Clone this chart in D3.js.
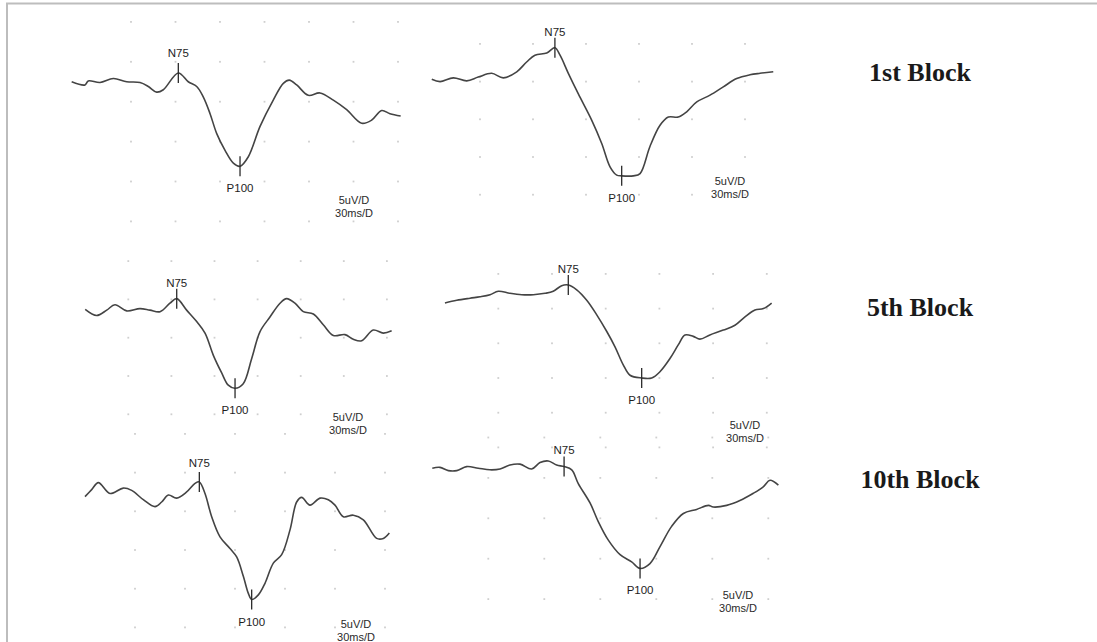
<!DOCTYPE html>
<html>
<head>
<meta charset="utf-8">
<script src="https://cdn.jsdelivr.net/npm/d3@7"></script>
<style>
    html, body { margin: 0; padding: 0; background: #fff; }
    svg { display: block; }
</style>
</head>
<body>
<div id="chart"></div>
<script>
// latency in ms, amplitude in uV (negative up, like the recorder)
const blockNames = ["1st Block", "5th Block", "10th Block"];
const peakNames = ["N75", "P100"];
const unitLabels = ["5uV/D", "30ms/D"];
const msPerDiv = 30;
const uvPerDiv = 5;

const b1aMs = [20.0, 29.0, 31.2, 39.1, 48.1, 57.1, 66.1, 71.7, 77.3, 81.8, 91.9, 98.6, 104.3, 108.7, 113.3, 117.8, 123.4, 129.0, 133.5, 139.1, 147.0, 155.9, 162.7, 166.7, 171.7, 179.5, 187.4, 196.4, 205.4, 215.5, 222.3, 229.0, 234.6, 241.8];
const b1aUv = [-2.5, -2.1, -2.6, -2.4, -2.9, -2.5, -2.4, -1.9, -1.2, -1.5, -3.6, -2.5, -1.9, -0.6, 1.5, 4.0, 6.1, 7.7, 8.1, 6.9, 3.1, -0.2, -2.3, -2.7, -2.1, -0.8, -1.1, -0.2, 1.0, 2.7, 2.3, 1.1, 1.5, 1.8];

const b1bMs = [2.7, 7.4, 14.9, 22.5, 29.0, 36.6, 43.2, 50.8, 56.4, 61.1, 67.8, 72.4, 75.3, 80.0, 85.6, 93.2, 98.9, 103.6, 107.4, 110.2, 116.8, 120.6, 126.2, 131.9, 136.6, 142.2, 147.0, 152.7, 160.2, 167.7, 175.3, 182.8, 188.5, 196.0];
const b1bUv = [-5.3, -5.0, -5.5, -5.1, -5.6, -6.1, -5.5, -6.3, -7.6, -8.5, -8.8, -9.5, -8.5, -6.1, -3.4, 0.1, 3.2, 6.3, 7.4, 7.5, 7.5, 7.2, 3.6, 0.8, -0.3, -0.3, -1.0, -2.3, -3.2, -4.3, -5.4, -5.9, -6.1, -6.3];

const b5aMs = [0.0, 8.0, 15.0, 20.7, 28.9, 38.1, 45.1, 52.1, 59.0, 63.7, 70.6, 77.6, 83.4, 89.2, 95.0, 99.6, 104.3, 110.0, 115.9, 121.7, 128.6, 135.6, 140.2, 146.0, 151.8, 158.8, 165.7, 172.7, 180.8, 186.6, 192.4, 200.5, 207.5, 213.3];
const b5aUv = [-3.7, -2.9, -3.6, -4.3, -3.5, -3.8, -3.6, -3.4, -4.5, -5.1, -3.6, -2.1, -0.6, 2.3, 4.6, 6.2, 6.6, 6.0, 2.7, -0.8, -2.7, -4.5, -5.1, -4.5, -3.4, -3.1, -1.7, -0.3, -0.4, 0.2, 0.4, -1.0, -0.6, -0.9];

const b5bMs = [0.2, 6.8, 14.2, 19.8, 25.4, 30.0, 36.5, 43.1, 49.6, 56.1, 60.7, 65.4, 69.1, 73.8, 79.4, 85.0, 90.6, 95.2, 99.8, 103.6, 110.1, 115.7, 120.3, 125.9, 130.6, 134.3, 138.9, 142.6, 148.2, 155.7, 162.2, 167.8, 173.4, 178.1, 182.7];
const b5bUv = [-5.8, -6.2, -6.5, -6.7, -7.0, -7.5, -7.2, -7.0, -7.0, -7.2, -7.5, -8.3, -8.4, -7.7, -6.2, -4.1, -1.7, 0.5, 3.1, 4.6, 5.0, 5.0, 4.1, 2.2, 0.2, -1.2, -1.0, -0.6, -1.2, -1.9, -2.6, -3.8, -4.8, -5.0, -5.8];

const b10aMs = [0.0, 4.0, 8.0, 15.0, 23.0, 28.0, 35.0, 42.0, 46.0, 50.0, 55.0, 61.0, 66.0, 68.6, 72.0, 76.0, 81.0, 87.0, 91.0, 95.0, 98.0, 100.0, 104.0, 108.0, 113.0, 118.0, 123.0, 127.0, 130.0, 135.0, 141.0, 146.0, 150.0, 155.0, 161.0, 167.0, 175.0, 179.0, 182.6];
const b10aUv = [-6.9, -7.8, -8.7, -7.3, -8.0, -7.7, -6.5, -5.6, -6.2, -7.1, -6.7, -7.5, -8.6, -8.8, -7.3, -4.3, -1.7, -0.2, 0.9, 3.4, 5.6, 6.4, 5.8, 4.3, 1.7, 0.6, -2.6, -6.2, -6.8, -5.8, -6.7, -6.5, -5.8, -4.3, -4.5, -3.9, -1.5, -1.5, -2.2];

const b10bMs = [0.0, 4.1, 8.6, 13.1, 18.4, 24.6, 30.9, 36.3, 41.6, 47.0, 53.2, 57.7, 62.1, 66.6, 70.6, 74.7, 78.2, 84.5, 88.9, 94.3, 100.6, 106.8, 111.3, 116.6, 122.0, 128.2, 134.5, 141.6, 147.9, 150.5, 157.7, 164.8, 172.0, 177.3, 180.9, 185.4];
const b10bUv = [-6.2, -6.3, -5.9, -5.9, -6.4, -6.2, -6.0, -6.1, -6.6, -6.7, -6.1, -6.9, -7.1, -6.6, -6.4, -6.0, -4.3, -1.9, 0.4, 2.7, 4.5, 5.4, 6.2, 5.6, 3.5, 1.0, -0.6, -1.1, -1.6, -1.4, -1.6, -2.2, -3.1, -3.9, -4.7, -4.1];

// peak latencies, one per panel (1st L, 1st R, 5th L, 5th R, 10th L, 10th R)
const n75Ms = [91.9, 72.4, 63.7, 69.1, 68.6, 70.6];
const p100Ms = [133.5, 110.2, 104.3, 110.1, 100.0, 111.3];

document.addEventListener("DOMContentLoaded", function () {
    const width = 1097, height = 642;

    const svg = d3.select("#chart")
        .append("svg")
        .attr("width", width)
        .attr("height", height);

    // frame (top and left edges only)
    svg.append("path")
        .attr("d", `M7,${height} V3.5 H${width}`)
        .attr("fill", "none")
        .attr("stroke", "#bdbdbd")
        .attr("stroke-width", 2);

    // each panel was pasted at its own size, so each gets its own px/div
    const panels = [
        { ms: b1aMs, uv: b1aUv, x0: 42, dx: 44.5, y0: 101.7, dy: 39.9, cols: [60, 240], rows: [-10, 15], ux: 354, uy: 204, nOff: 16 },
        { ms: b1bMs, uv: b1bUv, x0: 427, dx: 53, y0: 119.3, dy: 37.7, cols: [30, 180], rows: [-10, 10], ux: 730, uy: 184.5, nOff: 12 },
        { ms: b5aMs, uv: b5aUv, x0: 85.2, dx: 43.1, y0: 337.7, dy: 38.3, cols: [30, 210], rows: [-10, 10], ux: 348, uy: 421, nOff: 12 },
        { ms: b5bMs, uv: b5bUv, x0: 444.6, dx: 53.7, y0: 343.3, dy: 34.7, cols: [30, 180], rows: [-10, 15], ux: 745, uy: 429, nOff: 12 },
        { ms: b10aMs, uv: b10aUv, x0: 85, dx: 50, y0: 550, dy: 38.7, cols: [30, 180], rows: [-15, 10], ux: 356, uy: 627.5, nOff: 15 },
        { ms: b10bMs, uv: b10bUv, x0: 432.3, dx: 56, y0: 518.3, dy: 40.4, cols: [30, 180], rows: [-10, 10], ux: 738, uy: 599, nOff: 13 }
    ];

    panels.forEach((p, i) => {
        const x = d3.scaleLinear().domain([0, msPerDiv]).range([p.x0, p.x0 + p.dx]);
        const y = d3.scaleLinear().domain([0, uvPerDiv]).range([p.y0, p.y0 + p.dy]);
        const g = svg.append("g");

        // dotted division grid
        const colMs = d3.range(p.cols[0], p.cols[1] + 1, msPerDiv);
        const rowUv = d3.range(p.rows[0], p.rows[1] + 1, uvPerDiv);
        g.selectAll(".dot")
            .data(d3.cross(colMs, rowUv))
            .enter()
            .append("rect")
            .attr("class", "dot")
            .attr("x", d => x(d[0]) - 0.9)
            .attr("y", d => y(d[1]) - 0.9)
            .attr("width", 1.8)
            .attr("height", 1.8)
            .attr("fill", "#cfcfcf");

        const pts = p.ms.map((t, k) => [t, p.uv[k]]);
        const line = d3.line()
            .x(d => x(d[0]))
            .y(d => y(d[1]))
            .curve(d3.curveCatmullRom.alpha(0.5));

        g.append("path")
            .datum(pts)
            .attr("d", line)
            .attr("fill", "none")
            .attr("stroke", "#444")
            .attr("stroke-width", 1.6)
            .attr("stroke-linejoin", "round");

        // peak markers
        [n75Ms[i], p100Ms[i]].forEach((lat, j) => {
            const k = d3.minIndex(p.ms, t => Math.abs(t - lat));
            const px = x(p.ms[k]), py = y(p.uv[k]);
            g.append("line")
                .attr("x1", px).attr("x2", px)
                .attr("y1", py - 10).attr("y2", py + 10)
                .attr("stroke", "#2a2a2a")
                .attr("stroke-width", 1.3);
            g.append("text")
                .attr("x", px)
                .attr("y", j === 0 ? py - p.nOff : py + 26)
                .attr("text-anchor", "middle")
                .style("font-family", "'Liberation Sans', Arial, sans-serif")
                .style("font-size", "11.5px")
                .style("fill", "#1e1e1e")
                .text(peakNames[j]);
        });

        g.selectAll(".unit")
            .data(unitLabels)
            .enter()
            .append("text")
            .attr("class", "unit")
            .attr("x", p.ux)
            .attr("y", (d, k) => p.uy + k * 13)
            .attr("text-anchor", "middle")
            .style("font-family", "'Liberation Sans', Arial, sans-serif")
            .style("font-size", "11px")
            .style("fill", "#2a2a2a")
            .text(d => d);
    });

    const blockY = [81, 316, 488];
    svg.selectAll(".block")
        .data(blockNames)
        .enter()
        .append("text")
        .attr("class", "block")
        .attr("x", 920)
        .attr("y", (d, i) => blockY[i])
        .attr("text-anchor", "middle")
        .style("font-family", "'Liberation Serif', 'Times New Roman', serif")
        .style("font-weight", "bold")
        .style("font-size", "26px")
        .style("fill", "#1a1a1a")
        .text(d => d);
});
</script>
</body>
</html>
